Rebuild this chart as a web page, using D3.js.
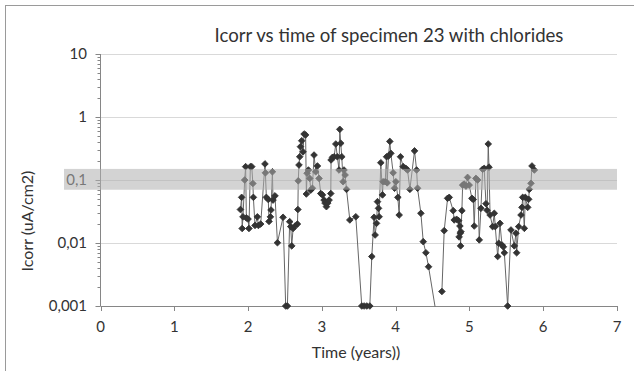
<!DOCTYPE html>
<html lang="en">
<head>
  <meta charset="UTF-8">
  <title>Icorr vs time of specimen 23 with chlorides</title>
  <style>
    body { margin: 0; background: #fff; }
    #chart { width: 634px; height: 371px; }
    text { font-family: Lato, "Open Sans", sans-serif; fill: #333; }
  </style>
</head>
<body>

<div id="chart"></div>

<script src="https://d3js.org/d3.v7.min.js"></script>
<script>

const width = 634;
const height = 371;

// time in years, Icorr in uA/cm2 (null = gap in the series)
const time = [
  1.896, 1.913, 1.92, 1.931, 1.954, 1.967, 1.977, 2.0, 2.012, 2.031,
  2.05, 2.065, 2.072, 2.094, 2.126, 2.14, 2.171, 2.229, 2.235, 2.248,
  2.274, 2.284, 2.303, 2.311, 2.33, 2.338, 2.365, 2.398, 2.474, 2.51,
  2.533, 2.564, 2.578, 2.592, 2.61, 2.637, 2.669, 2.675, 2.68, 2.69,
  2.70, 2.71, 2.727, 2.745, 2.759, 2.78, 2.79, 2.80, 2.818, 2.836,
  2.849, 2.872, 2.894, 2.917, 2.94, 2.962, 2.985, 3.008, 3.03, 3.043,
  3.062, 3.08, 3.098, 3.121, 3.125, 3.144, 3.166, 3.189, 3.21, 3.233,
  3.243, 3.256, 3.27, 3.288, 3.30, 3.315, 3.334, 3.379, 3.46, 3.541,
  3.573, 3.609, 3.65, 3.677, 3.708, 3.722, 3.741, 3.754, 3.768, 3.776,
  3.799, 3.822, 3.83, 3.858, 3.877, 3.885, 3.904, 3.921, 3.935, 3.966,
  3.985, 4.003, 4.03, 4.048, 4.066, 4.102, 4.138, 4.161, 4.193, 4.256,
  4.284, 4.297, 4.342, 4.374, 4.41, 4.446, 4.55, 4.6, 4.627, 4.658,
  4.704, 4.726, 4.78, 4.794, 4.826, 4.853, 4.86, 4.871, 4.875, 4.88,
  4.885, 4.898, 4.908, 4.93, 4.953, 4.975, 4.997, 5.034, 5.052, 5.065,
  5.088, 5.111, 5.133, 5.156, 5.179, 5.20, 5.224, 5.24, 5.255, 5.265,
  5.28, 5.314, 5.337, 5.35, 5.383, 5.397, 5.414, 5.441, 5.46, 5.473,
  5.518, 5.563, 5.608, 5.631, 5.64, 5.667, 5.699, 5.712, 5.722, 5.744,
  5.757, 5.79, 5.803, 5.811, 5.834, 5.848, 5.88
];

const icorr = [
  0.034, 0.053, 0.017, 0.026, 0.10, 0.163, 0.025, 0.024, 0.017, 0.163,
  0.163, 0.088, 0.053, 0.019, 0.026, 0.019, 0.020, 0.18, 0.13, 0.053,
  0.049, 0.022, 0.026, 0.0334, 0.135, 0.048, 0.056, 0.0101, 0.0256, 0.001,
  0.001, 0.0218, 0.0182, 0.009, 0.017, 0.0186, 0.02, 0.034, 0.097, 0.173,
  0.234, 0.338, 0.42, 0.28, 0.537, 0.52, 0.06, 0.128, 0.144, 0.106,
  0.069, 0.074, 0.249, 0.135, 0.167, 0.106, 0.061, 0.058, 0.048, 0.043,
  0.0377, 0.043, 0.048, 0.061, 0.208, 0.229, 0.234, 0.373, 0.234, 0.144,
  0.637, 0.383, 0.234, 0.094, 0.144, 0.12, 0.071, 0.0232, 0.0261, 0.001,
  0.001, 0.001, 0.001, 0.0061, 0.0256, 0.0134, 0.0205, 0.0453, 0.0355, 0.0261,
  0.188, 0.058, 0.094, 0.094, 0.234, 0.09, 0.24, 0.41, 0.265, 0.13,
  0.074, 0.094, 0.053, 0.0278, 0.234, 0.163, 0.153, 0.144, 0.071, 0.29,
  0.144, 0.074, 0.0296, 0.0105, 0.007, 0.0042, 0.00075, null, 0.0017, 0.0157,
  0.0512, 0.053, 0.0326, 0.0232, 0.0238, 0.0226, 0.0125, 0.0186, 0.0143, 0.009,
  0.0151, 0.0326, 0.083, 0.086, 0.08, 0.11, 0.083, 0.0512, 0.049, 0.0186,
  0.106, 0.1, 0.0112, 0.0355, 0.148, 0.153, 0.042, 0.033, 0.373, 0.16,
  0.0278, 0.0182, 0.0296, 0.0182, 0.0061, 0.0099, 0.0205, 0.0093, 0.0087, 0.007,
  0.001, 0.0161, 0.009, 0.0143, 0.007, 0.0182, 0.0278, 0.0368, 0.053, 0.0171,
  0.053, 0.0368, 0.0494, 0.071, 0.0886, 0.167, 0.144
];

const xTicks = [0, 1, 2, 3, 4, 5, 6, 7];
const yTicks = [0.001, 0.01, 0.1, 1, 10];
const yTickLabels = ["0,001", "0,01", "0,1", "1", "10"];
const band = [0.07, 0.15];

const data = time.map((t, i) => ({ t: t, v: icorr[i] }));

const x = d3.scaleLinear().domain([0, 7]).range([100.5, 617]);
const y = d3.scaleLog().domain([0.001, 10]).range([306, 54]);

const svg = d3.select("#chart").append("svg")
  .attr("width", width)
  .attr("height", height);

// outer chart border
svg.append("rect")
  .attr("x", 5.5).attr("y", 5.5)
  .attr("width", 700).attr("height", 400)
  .attr("fill", "none")
  .attr("stroke", "#9a9a9a");

svg.append("defs").append("clipPath").attr("id", "plot-clip")
  .append("rect")
  .attr("x", x(0)).attr("y", y(10))
  .attr("width", x(7) - x(0)).attr("height", y(0.001) - y(10) + 0.5);

// gridlines
svg.append("g").selectAll("line")
  .data([0.01, 0.1, 1, 10])
  .enter().append("line")
  .attr("x1", x(0)).attr("x2", x(7))
  .attr("y1", d => Math.round(y(d)) + 0.5)
  .attr("y2", d => Math.round(y(d)) + 0.5)
  .attr("stroke", "#d9d9d9");

// y axis with log minor ticks
const minor = [];
[0.001, 0.01, 0.1, 1].forEach(dec => {
  for (let k = 2; k <= 9; k++) minor.push(dec * k);
});
const yAxis = svg.append("g");
yAxis.append("line")
  .attr("x1", x(0)).attr("x2", x(0))
  .attr("y1", y(10)).attr("y2", y(0.001))
  .attr("stroke", "#868686");
yAxis.selectAll(".minor").data(minor).enter().append("line")
  .attr("x1", x(0) - 3).attr("x2", x(0))
  .attr("y1", d => Math.round(y(d)) + 0.5).attr("y2", d => Math.round(y(d)) + 0.5)
  .attr("stroke", "#868686");
yAxis.selectAll(".major").data(yTicks).enter().append("line")
  .attr("x1", x(0) - 5).attr("x2", x(0))
  .attr("y1", d => Math.round(y(d)) + 0.5).attr("y2", d => Math.round(y(d)) + 0.5)
  .attr("stroke", "#868686");
yAxis.selectAll("text").data(yTicks).enter().append("text")
  .attr("x", 87)
  .attr("y", d => y(d))
  .attr("dy", "0.35em")
  .attr("text-anchor", "end")
  .style("font-size", "15px")
  .text((d, i) => yTickLabels[i]);

// x axis
const xAxis = svg.append("g");
xAxis.append("line")
  .attr("x1", x(0)).attr("x2", x(7))
  .attr("y1", y(0.001) + 0.5).attr("y2", y(0.001) + 0.5)
  .attr("stroke", "#868686");
xAxis.selectAll(".tick").data(xTicks).enter().append("line")
  .attr("x1", d => Math.round(x(d)) + 0.5).attr("x2", d => Math.round(x(d)) + 0.5)
  .attr("y1", y(0.001)).attr("y2", y(0.001) + 5)
  .attr("stroke", "#868686");
xAxis.selectAll("text").data(xTicks).enter().append("text")
  .attr("x", d => x(d))
  .attr("y", 332)
  .attr("text-anchor", "middle")
  .style("font-size", "15px")
  .text(d => d);

// series
const line = d3.line()
  .defined(d => d.v != null)
  .x(d => x(d.t))
  .y(d => y(d.v));

svg.append("path")
  .datum(data)
  .attr("clip-path", "url(#plot-clip)")
  .attr("fill", "none")
  .attr("stroke", "#666")
  .attr("stroke-width", 1)
  .attr("d", line);

const diamond = d3.symbol().type(d3.symbolSquare).size(22);
svg.append("g").selectAll("path")
  .data(data.filter(d => d.v != null && d.v >= 0.001))
  .enter().append("path")
  .attr("d", diamond)
  .attr("transform", d => `translate(${x(d.t)},${y(d.v)}) rotate(45)`)
  .attr("fill", "#333")
  .attr("stroke", "#333")
  .attr("stroke-width", 0.8);

// shaded band around 0,1 (drawn over the series)
svg.append("rect")
  .attr("x", 64)
  .attr("y", y(band[1]))
  .attr("width", x(7) - 64)
  .attr("height", y(band[0]) - y(band[1]))
  .attr("fill", "#afafaf")
  .attr("opacity", 0.55);

// titles
svg.append("text")
  .attr("x", 389).attr("y", 42)
  .attr("text-anchor", "middle")
  .style("font-size", "18.6px")
  .text("Icorr vs time of specimen 23 with chlorides");

svg.append("text")
  .attr("x", 356).attr("y", 358)
  .attr("text-anchor", "middle")
  .style("font-size", "16px")
  .text("Time (years))");

svg.append("text")
  .attr("transform", "translate(33,221) rotate(-90)")
  .attr("text-anchor", "middle")
  .style("font-size", "16px")
  .text("Icorr (uA/cm2)");

</script>

</body>
</html>
